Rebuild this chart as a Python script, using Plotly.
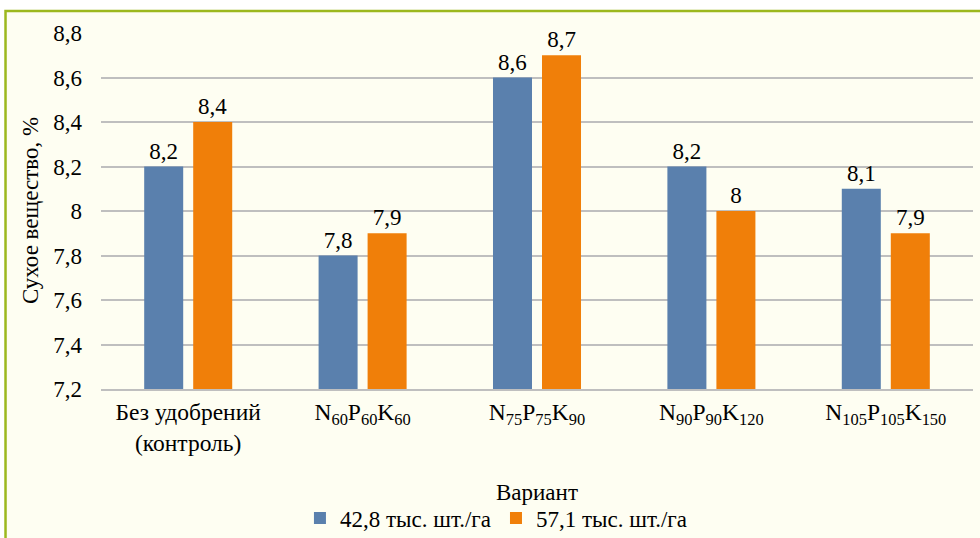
import plotly.graph_objects as go

# Варианты удобрений (подписи категорий)
categories = [
    "Без удобрений<br>(контроль)",
    "N<sub>60</sub>P<sub>60</sub>K<sub>60</sub>",
    "N<sub>75</sub>P<sub>75</sub>K<sub>90</sub>",
    "N<sub>90</sub>P<sub>90</sub>K<sub>120</sub>",
    "N<sub>105</sub>P<sub>105</sub>K<sub>150</sub>",
]
series_names = ["42,8 тыс. шт./га", "57,1 тыс. шт./га"]
dry_matter_low = [8.2, 7.8, 8.6, 8.2, 8.1]
dry_matter_high = [8.4, 7.9, 8.7, 8.0, 7.9]
y_ticks = [7.2, 7.4, 7.6, 7.8, 8.0, 8.2, 8.4, 8.6, 8.8]

BLUE = "#5A80AD"
ORANGE = "#F07F09"
FONT = "Liberation Serif"


def fmt(v):
    return f"{v:g}".replace(".", ",")


fig = go.Figure()
for name, vals, color in [
    (series_names[0], dry_matter_low, BLUE),
    (series_names[1], dry_matter_high, ORANGE),
]:
    fig.add_trace(go.Bar(
        x=categories, y=vals, name=name,
        marker=dict(color=color, line=dict(width=0)),
        text=[fmt(v) for v in vals],
        textposition="outside",
        textfont=dict(family=FONT, size=23, color="#000000"),
        cliponaxis=False,
    ))

fig.update_layout(
    width=980, height=538,
    margin=dict(l=101, r=7, t=33, b=149, autoexpand=False),
    paper_bgcolor="#FFFFFF",
    plot_bgcolor="rgba(0,0,0,0)",
    separators=", ",
    barmode="group",
    bargap=0.438,
    bargroupgap=0.204,
    font=dict(family=FONT, size=23, color="#000000"),
    showlegend=True,
    legend=dict(
        orientation="h", x=0.4535, xanchor="center", y=-0.3624, yanchor="middle",
        font=dict(family=FONT, size=23), itemwidth=30, bgcolor="rgba(0,0,0,0)",
    ),
    xaxis=dict(
        showgrid=False, showline=True, linecolor="#BFBFBF", linewidth=1.5,
        tickfont=dict(family=FONT, size=23.5), ticklabelstandoff=1,
        automargin=False,
    ),
    yaxis=dict(
        range=[7.2, 8.8], tickvals=y_ticks,
        showgrid=True, gridcolor="#BFBFBF", gridwidth=1.5,
        zeroline=False, showline=False,
        tickfont=dict(family=FONT, size=23), ticklabelstandoff=18,
        automargin=False,
    ),
    annotations=[
        # подпись оси X
        dict(text="Вариант", xref="paper", yref="paper", x=0.5, y=-0.292,
             xanchor="center", yanchor="middle", showarrow=False,
             font=dict(family=FONT, size=23)),
        # подпись оси Y
        dict(text="Сухое вещество, %", xref="paper", yref="paper", x=-0.0814, y=0.5,
             xanchor="center", yanchor="middle", textangle=-90, showarrow=False,
             font=dict(family=FONT, size=23)),
    ],
    shapes=[dict(
        type="rect", xref="paper", yref="paper",
        x0=-0.1095, x1=1.02, y0=-0.45, y1=1.0618,
        fillcolor="#FEFEF2", line=dict(color="#9CB81E", width=2.5),
        layer="below",
    )],
)

fig.write_html("out.html")
